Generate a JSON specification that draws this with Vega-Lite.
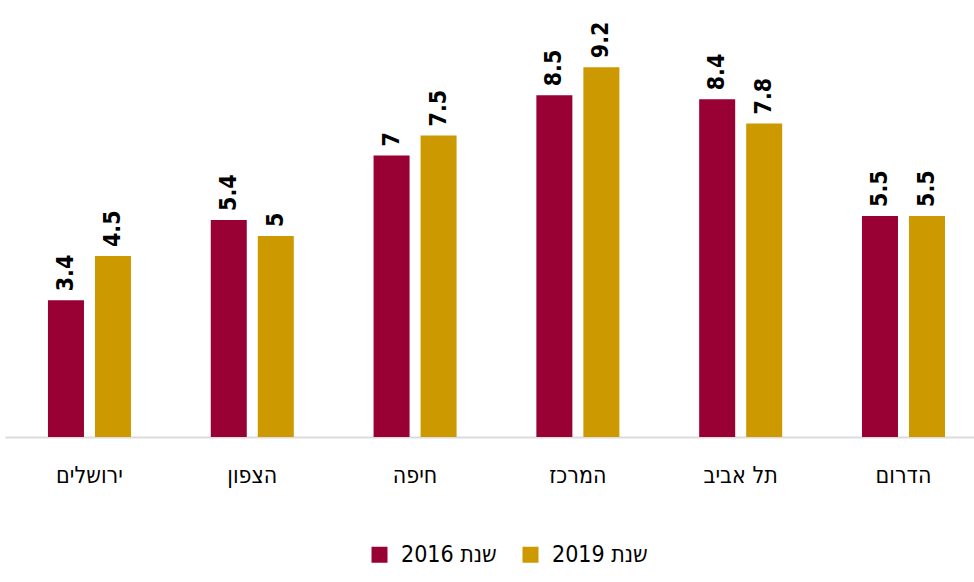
{
  "$schema": "https://vega.github.io/schema/vega-lite/v6.json",
  "autosize": {"type": "none"},
  "width": 969,
  "height": 402,
  "padding": {"left": 5, "top": 35, "right": 0, "bottom": 145},
  "background": "white",
  "config": {"view": {"stroke": null}, "font": "DejaVu Sans Condensed"},
  "data": {
    "values": [
      {"region": "ירושלים", "year": "שנת 2016", "value": 3.4},
      {"region": "ירושלים", "year": "שנת 2019", "value": 4.5},
      {"region": "הצפון", "year": "שנת 2016", "value": 5.4},
      {"region": "הצפון", "year": "שנת 2019", "value": 5},
      {"region": "חיפה", "year": "שנת 2016", "value": 7},
      {"region": "חיפה", "year": "שנת 2019", "value": 7.5},
      {"region": "המרכז", "year": "שנת 2016", "value": 8.5},
      {"region": "המרכז", "year": "שנת 2019", "value": 9.2},
      {"region": "תל אביב", "year": "שנת 2016", "value": 8.4},
      {"region": "תל אביב", "year": "שנת 2019", "value": 7.8},
      {"region": "הדרום", "year": "שנת 2016", "value": 5.5},
      {"region": "הדרום", "year": "שנת 2019", "value": 5.5}
    ]
  },
  "encoding": {
    "x": {
      "field": "region", "type": "nominal", "sort": null,
      "scale": {"paddingInner": 0.49, "paddingOuter": 0.221, "align": 0.597},
      "axis": {
        "title": null, "labelAngle": 0, "ticks": false,
        "domainColor": "#dcdcdc", "domainWidth": 2,
        "labelFont": "DejaVu Sans Condensed", "labelFontSize": 23, "labelColor": "#000",
        "labelPadding": 27
      }
    },
    "xOffset": {"field": "year", "type": "nominal", "scale": {"paddingInner": 0.234, "paddingOuter": 0}},
    "y": {"field": "value", "type": "quantitative", "scale": {"domain": [0, 10]}, "axis": null}
  },
  "layer": [
    {
      "mark": {"type": "bar"},
      "encoding": {
        "color": {
          "field": "year", "type": "nominal",
          "scale": {"domain": ["שנת 2016", "שנת 2019"], "range": ["#990033", "#cc9900"]},
          "legend": {
            "title": null, "orient": "none", "direction": "horizontal",
            "legendX": 363, "legendY": 508,
            "symbolType": "square", "symbolSize": 256, "symbolStrokeWidth": 0,
            "labelFont": "DejaVu Sans Condensed", "labelFontSize": 23, "labelColor": "#000",
            "labelOffset": 10, "columnPadding": 22, "labelLimit": 300
          }
        }
      }
    },
    {
      "mark": {"type": "text", "angle": 270, "align": "left", "baseline": "middle", "dx": 9,
               "font": "DejaVu Sans Condensed", "fontWeight": "bold", "fontSize": 23, "color": "#000"},
      "encoding": {"text": {"field": "value", "type": "quantitative", "format": ".1~f"}}
    }
  ]
}
